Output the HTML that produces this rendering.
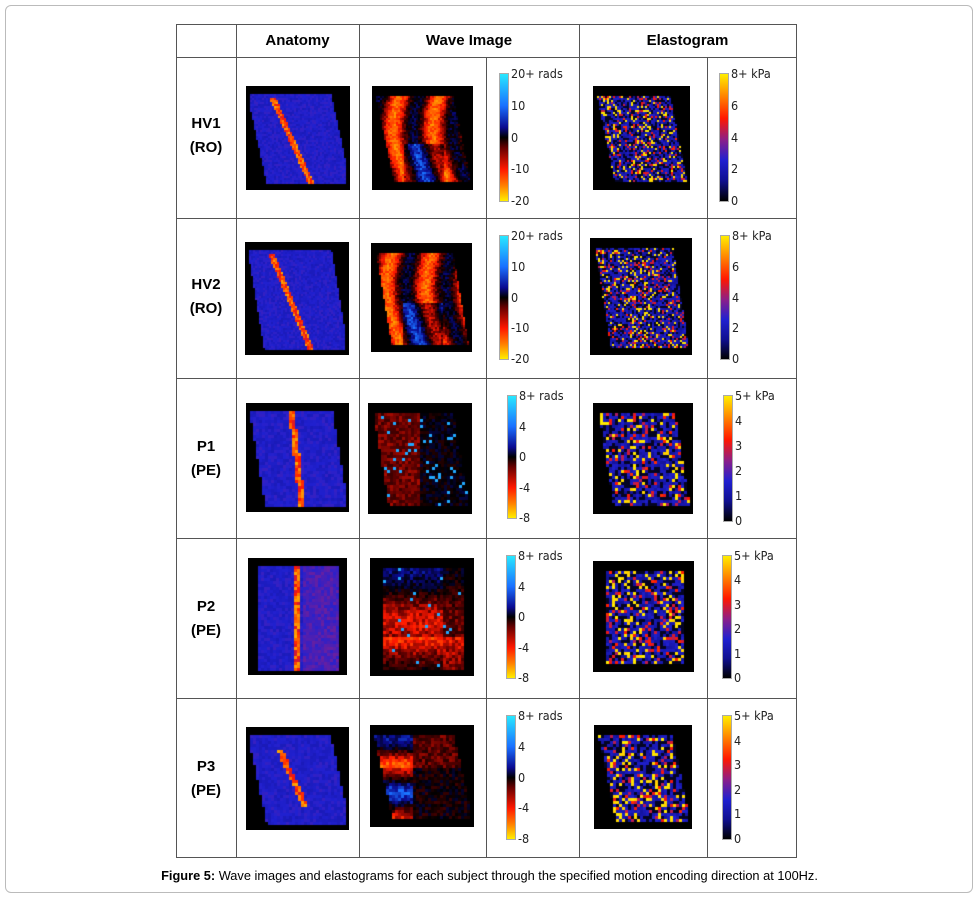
<!DOCTYPE html>
<html><head><meta charset="utf-8">
<style>
body{margin:0;background:#fff;width:979px;height:898px;position:relative;overflow:hidden;font-family:"Liberation Sans",sans-serif}
.frame{position:absolute;left:5px;top:5px;width:966px;height:886px;border:1px solid #bbb;border-radius:6px}
.l{position:absolute;background:#555}
.h{position:absolute;font-weight:bold;font-size:15px;text-align:center;top:32px}
.rl{position:absolute;left:176px;width:60px;text-align:center;font-weight:bold;font-size:15px;line-height:24px}
canvas{position:absolute}
.cb{position:absolute;width:8px;border:1px solid #aaa}
.wv{background:linear-gradient(to bottom,#28e8ff 0%,#1a70ff 25%,#0a0a90 42%,#000 50%,#600 58%,#ff1800 75%,#ff8000 88%,#ffee00 100%)}
.el{background:linear-gradient(to bottom,#ffee00 0%,#ff8000 18%,#ff1800 35%,#8a1e8a 52%,#2020d0 68%,#101090 84%,#000 100%)}
.t{position:absolute;font-size:12.5px;color:#222;line-height:12px;font-family:"DejaVu Sans Condensed","Liberation Sans Narrow","Liberation Sans",sans-serif}
.cap{position:absolute;top:868px;left:0;width:979px;text-align:center;font-size:12.8px}
</style></head><body>
<div class="frame"></div>
<div id="grid"></div>
<div class="h" style="left:236px;width:123px">Anatomy</div>
<div class="h" style="left:359px;width:220px">Wave Image</div>
<div class="h" style="left:579px;width:217px">Elastogram</div>
<div id="rows"></div>
<div class="cap"><b>Figure 5:</b> Wave images and elastograms for each subject through the specified motion encoding direction at 100Hz.</div>
<script>
const rowLabels=[["HV1","(RO)"],["HV2","(RO)"],["P1","(PE)"],["P2","(PE)"],["P3","(PE)"]];
const waveTicks=[["20+ rads","10","0","-10","-20"],["20+ rads","10","0","-10","-20"],["8+ rads","4","0","-4","-8"],["8+ rads","4","0","-4","-8"],["8+ rads","4","0","-4","-8"]];
const elTicks=[["8+ kPa","6","4","2","0"],["8+ kPa","6","4","2","0"],["5+ kPa","4","3","2","1","0"],["5+ kPa","4","3","2","1","0"],["5+ kPa","4","3","2","1","0"]];
const rowTops=[57,218,378,538,698];
const anat=[[246,86,104,104],[245,242,104,113],[246,403,103,109],[248,558,99,117],[246,727,103,103]];
const wave=[[372,86,101,104],[371,243,101,109],[368,403,104,111],[370,558,104,118],[370,725,104,102]];
const wcb=[[499,73,127],[499,235,123],[507,395,122],[506,555,122],[506,715,123]];
const elas=[[593,86,97,104],[590,238,102,117],[593,403,100,111],[593,561,101,111],[594,725,98,104]];
const ecb=[[719,73,127],[720,235,123],[723,395,125],[722,555,122],[722,715,123]];
const g=document.getElementById('grid');
function line(x,y,w,h){const d=document.createElement('div');d.className='l';


d.style.cssText=`left:${x}px;top:${y}px;width:${w}px;height:${h}px`;g.appendChild(d);}
[24,57,218,378,538,698,857].forEach(y=>line(176,y,621,1));
[176,236,359,579,796].forEach(x=>line(x,24,1,834));
[486,707].forEach(x=>line(x,57,1,801));
const R=document.getElementById('rows');
let seed=7;function rnd(){seed=(seed*16807)%2147483647;return seed/2147483647;}
function lerp(a,b,t){return a.map((v,i)=>Math.round(v+(b[i]-v)*t));}
function cmap(stops,t){t=Math.max(0,Math.min(1,t));const n=stops.length-1;const i=Math.min(n-1,Math.floor(t*n));return lerp(stops[i],stops[i+1],t*n-i);}
const WAVE=[[255,238,0],[255,128,0],[255,24,0],[96,0,0],[0,0,0],[10,10,144],[26,112,255],[40,232,255]];
const EL=[[0,0,0],[16,16,144],[32,32,208],[138,30,138],[255,24,0],[255,128,0],[255,238,0]];
function img(box,kind,r){
 const [x,y,w,h]=box;const c=document.createElement('canvas');c.width=w;c.height=h;
 c.style.left=x+'px';c.style.top=y+'px';
 
 
 R.appendChild(c);const ctx=c.getContext('2d');ctx.fillStyle='#000';ctx.fillRect(0,0,w,h);
 const px=r<2?2:3,slant=[0.22,0.18,0.18,0,0.22][r];
 const pad=kind==='anatomy'?8:10;
 for(let j=pad;j<h-pad+2;j+=px){const fy=(j)/h;const off=slant*w*(fy-0.5);
  for(let i=4;i<w-4;i+=px){const xi=i-off; if(xi<pad+2||xi>w-pad-2) continue;
   const fx=i/w;let col;
   if(kind==='anatomy'){const lc=(r===2)?0.42+fy*0.12:(r===3?0.47:(r===4?0.22+fy*0.45:0.2+fy*0.45));
     const d=Math.abs(fx-lc);if(d<0.03&&!(r===4&&(fy<0.2||fy>0.75))&&!(r<2&&fy<0.1)){col=cmap(EL,0.6+rnd()*0.3);}else{col=cmap(EL,0.27+rnd()*0.1+(r===3&&fx>0.55?0.08:0));}}
   else if(kind==='wave'){let v;
     if(r<2){v=Math.sin(fx*16+Math.sin(fy*4)*1.5+r)*0.45-0.2+(fy>0.55&&fx>0.3&&fx<0.7?0.35:0);v+=(rnd()-0.5)*0.3;}
     else if(r===2){v=(fx<0.5?-0.15:0.15)+(rnd()-0.5)*0.25; if(rnd()>0.95)v=0.85;}
     else if(r===3){v=Math.sin(fy*7+1)*0.35*(fx<0.7?1:0.4)+(fy>0.65?-0.3:0)+(rnd()-0.5)*0.3; if(rnd()>0.97)v=0.85;}
     else {v=(fx<0.4?Math.sin(fy*12)*0.5:0)+(rnd()-0.5)*0.3+(fy<0.4?-0.1:0.1);}
     col=cmap(WAVE,0.5+v*0.5);}
   else {let v=rnd(); const cl=Math.sin(fx*14+r)*0.5+0.5; let t;
     if(v<0.08+0.1*cl) t=0.95+rnd()*0.05; else if(v>0.88) t=0.55+rnd()*0.15; else if(v>0.6) t=0.04; else t=0.18+rnd()*0.15;
     col=cmap(EL,t);}
   ctx.fillStyle=`rgb(${col})`;ctx.fillRect(i,j,px,px);}}
}
function bar(spec,cls,ticks,name){const [x,y,h]=spec;const d=document.createElement('div');d.className='cb '+cls;
 
 
 d.style.cssText=`left:${x}px;top:${y}px;height:${h}px`;R.appendChild(d);
 ticks.forEach((t,k)=>{const s=document.createElement('div');s.className='t';s.textContent=t;
  
  
  s.style.left=(x+12)+'px';s.style.top=(y-5+k*h/(ticks.length-1))+'px';R.appendChild(s);});}
rowLabels.forEach((lb,r)=>{
 const d=document.createElement('div');d.className='rl';d.innerHTML=lb[0]+'<br>'+lb[1];
 
 
 d.style.top=(rowTops[r]+(r<2?55:57))+'px';R.appendChild(d);
 img(anat[r],'anatomy',r);img(wave[r],'wave',r);img(elas[r],'elastogram',r);
 bar(wcb[r],'wv',waveTicks[r],'wave-colorbar');bar(ecb[r],'el',elTicks[r],'elastogram-colorbar');
});
</script>
</body></html>
